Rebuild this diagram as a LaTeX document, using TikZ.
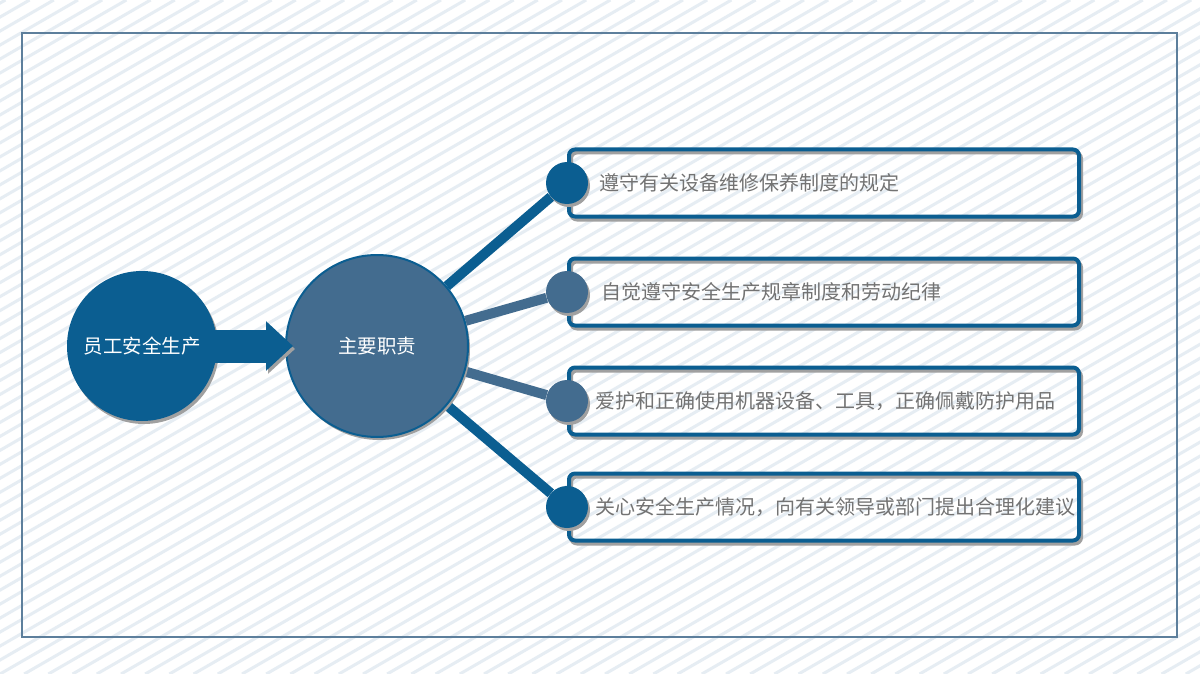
\documentclass[tikz,border=0pt]{standalone}
\usepackage{fontspec}
\newfontfamily\cjk{Noto Sans CJK SC}
\usetikzlibrary{arrows.meta,shadows,positioning}

\definecolor{dblue}{RGB}{11,94,145}
\definecolor{sblue}{RGB}{67,108,143}
\definecolor{framec}{RGB}{93,127,156}
\definecolor{stripec}{RGB}{230,237,243}
\definecolor{shadowc}{RGB}{160,160,160}
\definecolor{textc}{RGB}{115,115,115}

\pgfdeclarelayer{back}
\pgfdeclarelayer{mid}
\pgfsetlayers{back,mid,main}

\begin{document}
\begin{tikzpicture}[x=1pt,y=-1pt]
        \tikzstyle{big}=[circle,inner sep=0pt,text=white,font=\cjk\fontsize{19.5}{23}\selectfont,drop shadow={shadow xshift=2pt,shadow yshift=-3pt,fill=shadowc,opacity=1}]
        \tikzstyle{dot}=[circle,inner sep=0pt,minimum size=42pt,drop shadow={shadow xshift=2pt,shadow yshift=-3pt,fill=shadowc,opacity=1}]
        \tikzstyle{box}=[rectangle,rounded corners=6pt,draw=dblue,line width=4pt,minimum width=510pt,minimum height=67pt,drop shadow={shadow xshift=2pt,shadow yshift=-3pt,fill=none,draw=shadowc,opacity=1}]
        \tikzstyle{item}=[text=textc,font=\cjk\fontsize{20}{24}\selectfont,inner sep=0pt]
        \tikzstyle{spoke}=[line width=10pt,drop shadow={shadow xshift=2pt,shadow yshift=-3pt,fill=none,draw=shadowc,opacity=1}]

        \useasboundingbox (0,0) rectangle (1200,674);
        \begin{pgfonlayer}{back}
        \begin{scope}
            \fill[white] (0,0) rectangle (1200,674);
            \clip (0,0) rectangle (1200,674);
            \foreach \i in {-50,...,50}
                \draw[stripec, line width=3pt] (\i*24.2,674) -- ++(1167,-674);
        \end{scope}
        \draw[framec, line width=2pt] (22,33) rectangle (1177,637);
        \end{pgfonlayer}

        \node (a)[big, fill=dblue, minimum size=150pt] at (142,346) {员工安全生产};
        \node (m)[big, fill=sblue, draw=dblue, line width=2pt, minimum size=182pt] at (377,346) {主要职责};

        \node (b1)[box] at (824,183) {};
        \node (b2)[box] at (824,292) {};
        \node (b3)[box] at (824,401) {};
        \node (b4)[box] at (824,507) {};

        \node (d1)[dot, fill=dblue] at (b1.west) {};
        \node (d2)[dot, fill=sblue] at (b2.west) {};
        \node (d3)[dot, fill=sblue] at (b3.west) {};
        \node (d4)[dot, fill=dblue] at (b4.west) {};

        \node (t1)[item, right=32pt of b1.west] {遵守有关设备维修保养制度的规定};
        \node (t2)[item, right=34pt of b2.west] {自觉遵守安全生产规章制度和劳动纪律};
        \node (t3)[item, right=28pt of b3.west] {爱护和正确使用机器设备、工具，正确佩戴防护用品};
        \node (t4)[item, right=28pt of b4.west] {关心安全生产情况，向有关领导或部门提出合理化建议};

        \begin{pgfonlayer}{mid}
            \draw[spoke, dblue] (m) -- (d1);
            \draw[spoke, sblue] (m) -- (d2);
            \draw[spoke, sblue] (m) -- (d3);
            \draw[spoke, dblue] (m) -- (d4);
        \end{pgfonlayer}

        \draw[dblue, line width=33pt, shorten <=-5pt, shorten >=-8pt, -{Triangle[width=48pt,length=27pt]}, drop shadow={shadow xshift=2pt,shadow yshift=-3pt,fill=none,draw=shadowc,opacity=1}] (a) -- (m);
    \end{tikzpicture}
\end{document}
